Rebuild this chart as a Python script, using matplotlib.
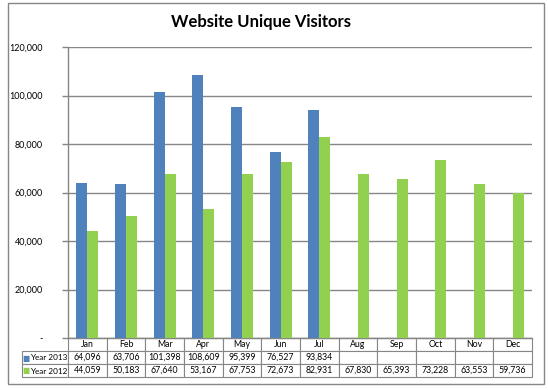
import matplotlib
matplotlib.use("Agg")
import matplotlib.pyplot as plt
import numpy as np
from matplotlib.patches import Rectangle

months = ["Jan", "Feb", "Mar", "Apr", "May", "Jun", "Jul", "Aug", "Sep", "Oct", "Nov", "Dec"]
year2013 = [64096, 63706, 101398, 108609, 95399, 76527, 93834, None, None, None, None, None]
year2012 = [44059, 50183, 67640, 53167, 67753, 72673, 82931, 67830, 65393, 73228, 63553, 59736]
series_names = ["Year 2013", "Year 2012"]
yticks = [0, 20000, 40000, 60000, 80000, 100000, 120000]
title = "Website Unique Visitors"

c13 = "#4F81BD"
c12 = "#92D050"
grid_c = "#868686"

plt.rcParams['font.family'] = ['Lato', 'DejaVu Sans']

W, H = 548, 390
fig = plt.figure(figsize=(W / 100, H / 100), dpi=100)
L, R, T, B = 68, 532, 47, 338
ax = fig.add_axes([L / W, 1 - B / H, (R - L) / W, (B - T) / H])

x = np.arange(len(months))
w = 0.286
v13 = np.array([np.nan if v is None else v for v in year2013], dtype=float)
v12 = np.array(year2012, dtype=float)
ax.bar(x - w / 2, v13, width=w, color=c13, zorder=3)
ax.bar(x + w / 2, v12, width=w, color=c12, zorder=3)

ax.set_xlim(-0.5, len(months) - 0.5)
ax.set_ylim(0, 120000)
ax.set_yticks(yticks)
ax.set_yticklabels(["-" if v == 0 else f"{v:,}" for v in yticks], fontsize=6.5)
ax.tick_params(axis='y', length=4, color=grid_c, pad=14, width=1)
ax.set_xticks([])
ax.yaxis.grid(True, color=grid_c, linewidth=1, zorder=0)
for s in ["top", "right"]:
    ax.spines[s].set_visible(False)
for s in ["left", "bottom"]:
    ax.spines[s].set_color(grid_c)
    ax.spines[s].set_linewidth(1)

fmt = lambda v: "" if v is None else f"{v:,}"
cell_text = [[""] + months,
             [""] + [fmt(v) for v in year2013],
             [""] + [fmt(v) for v in year2012]]
lab_w = 46 / (R - L)
tb_h = (377 - B) / (B - T)
table = ax.table(cellText=cell_text, cellLoc='center',
                 bbox=[-lab_w, -tb_h, 1 + lab_w, tb_h])
table.auto_set_font_size(False)
table.set_fontsize(6.3)
for (r, c), cell in table.get_celld().items():
    cell.set_edgecolor(grid_c)
    cell.set_linewidth(0.8)
    if c == 0:
        cell.set_width(lab_w)
    else:
        cell.set_width(1.0 / 12)
    if r == 0 and c == 0:
        cell.visible_edges = ''

# row labels with legend keys
row_y = [-(358 - B) / (B - T), -(371 - B) / (B - T)]
for yy, col, name in zip(row_y, [c13, c12], series_names):
    ax.text((26 - L) / (R - L), yy, "■", color=col, fontsize=5.5,
            transform=ax.transAxes, ha='center', va='center',
            family=['DejaVu Sans'], clip_on=False)
    ax.text((30.5 - L) / (R - L), yy, name, fontsize=5.9,
            transform=ax.transAxes, ha='left', va='center', clip_on=False)

fig.text(261 / W, 1 - 22 / H, title, fontsize=12, fontweight='bold',
         ha='center', va='center')

fig.patches.append(Rectangle((8 / W, 1 - 384 / H), 536 / W, 381 / H,
                             transform=fig.transFigure, fill=False,
                             edgecolor=grid_c, linewidth=1))

fig.savefig("out.png", dpi=100)
